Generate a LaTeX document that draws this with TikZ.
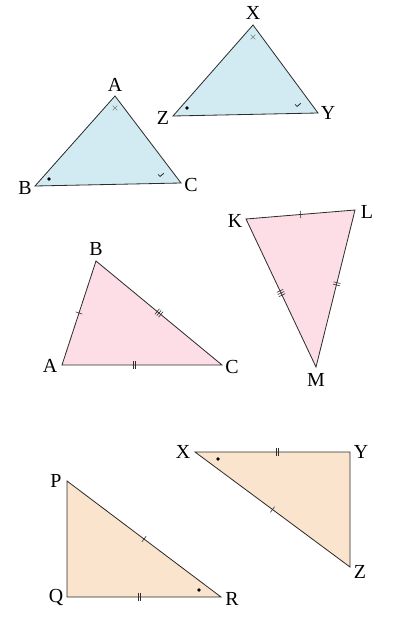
\documentclass[tikz,border=0pt]{standalone}
\usepackage{fontspec}
\setmainfont{Liberation Serif}
\definecolor{bluefill}{RGB}{210,235,242}
\definecolor{pinkfill}{RGB}{253,222,230}
\definecolor{sandfill}{RGB}{250,228,205}
\definecolor{edgegray}{RGB}{45,45,45}
\tikzset{
  onetick/.pic={\draw[edgegray,line width=0.5pt] (0,-3pt) -- (0,3pt);},
  twotick/.pic={\draw[edgegray,line width=0.5pt] (-1pt,-3pt) -- (-1pt,3pt) (1pt,-3pt) -- (1pt,3pt);},
  threetick/.pic={\draw[edgegray,line width=0.5pt] (-2pt,-3pt) -- (-2pt,3pt) (0,-3pt) -- (0,3pt) (2pt,-3pt) -- (2pt,3pt);},
  crossmark/.pic={\draw[gray,line width=0.5pt] (-2pt,-2pt) -- (2pt,2pt) (-2pt,2pt) -- (2pt,-2pt);},
  tickmark/.pic={\draw[edgegray,line width=0.7pt] (-2.5pt,0.5pt) -- (-0.8pt,-1.2pt) -- (2.5pt,1.5pt);}
}
\begin{document}
\begin{tikzpicture}[
  x=0.03cm, y=-0.03cm,
  tri/.style={draw=edgegray,line width=0.7pt,line join=miter},
  lbl/.style={font=\fontsize{17}{20}\selectfont,inner sep=0pt},
  dotmark/.style={circle,fill=black,inner sep=0pt,minimum size=3.2pt}
]
\useasboundingbox (0,0) rectangle (411,625);

% top pair: angle marks
\coordinate (A1) at (115,96);
\coordinate (B1) at (35,186);
\coordinate (C1) at (181,183);
\filldraw[tri,fill=bluefill] (A1) -- (B1) -- (C1) -- cycle;
\node[lbl] (lA1) at (115,85) {A};
\node[lbl] (lB1) at (25,188) {B};
\node[lbl] (lC1) at (191,185) {C};
\pic (xA1) at (115,108) {crossmark};
\node[dotmark] (dB1) at (49,179) {};
\pic (vC1) at (161,175) {tickmark};

\coordinate (X2) at (253,25);
\coordinate (Z2) at (173,116);
\coordinate (Y2) at (318,113);
\filldraw[tri,fill=bluefill] (X2) -- (Z2) -- (Y2) -- cycle;
\node[lbl] (lX2) at (253,13) {X};
\node[lbl] (lZ2) at (163,118) {Z};
\node[lbl] (lY2) at (328,113) {Y};
\pic (xX2) at (253,37) {crossmark};
\node[dotmark] (dZ2) at (187,108) {};
\pic (vY2) at (298,105) {tickmark};

% middle pair: side marks
\coordinate (A3) at (62,365);
\coordinate (B3) at (96,261);
\coordinate (C3) at (222,365);
\filldraw[tri,fill=pinkfill] (A3) -- (B3) -- (C3) -- cycle;
\node[lbl] (lA3) at (50,366) {A};
\node[lbl] (lB3) at (96,249) {B};
\node[lbl] (lC3) at (232,367) {C};
\path (A3) -- pic[sloped]{onetick} (B3);
\path (B3) -- pic[sloped]{threetick} (C3);
\path (A3) -- pic[sloped,pos=0.45]{twotick} (C3);

\coordinate (K4) at (246,219);
\coordinate (L4) at (355,210);
\coordinate (M4) at (316,367);
\filldraw[tri,fill=pinkfill] (K4) -- (L4) -- (M4) -- cycle;
\node[lbl] (lK4) at (235,221) {K};
\node[lbl] (lL4) at (367,212) {L};
\node[lbl] (lM4) at (316,380) {M};
\path (K4) -- pic[sloped]{onetick} (L4);
\path (K4) -- pic[sloped]{threetick} (M4);
\path (L4) -- pic[sloped,pos=0.47]{twotick} (M4);

% bottom pair: right triangles
\coordinate (X5) at (195,452);
\coordinate (Y5) at (350,452);
\coordinate (Z5) at (350,567);
\filldraw[tri,fill=sandfill] (X5) -- (Y5) -- (Z5) -- cycle;
\node[lbl] (lX5) at (183,452) {X};
\node[lbl] (lY5) at (361,452) {Y};
\node[lbl] (lZ5) at (360,572) {Z};
\path (X5) -- pic[sloped,pos=0.53]{twotick} (Y5);
\path (X5) -- pic[sloped]{onetick} (Z5);
\node[dotmark] (dX5) at (218,459) {};

\coordinate (P6) at (67,481);
\coordinate (Q6) at (67,597);
\coordinate (R6) at (221,597);
\filldraw[tri,fill=sandfill] (P6) -- (Q6) -- (R6) -- cycle;
\node[lbl] (lP6) at (56,481) {P};
\node[lbl] (lQ6) at (56,598) {Q};
\node[lbl] (lR6) at (232,599) {R};
\path (P6) -- pic[sloped]{onetick} (R6);
\path (Q6) -- pic[sloped,pos=0.47]{twotick} (R6);
\node[dotmark] (dR6) at (199,590) {};
\end{tikzpicture}
\end{document}
